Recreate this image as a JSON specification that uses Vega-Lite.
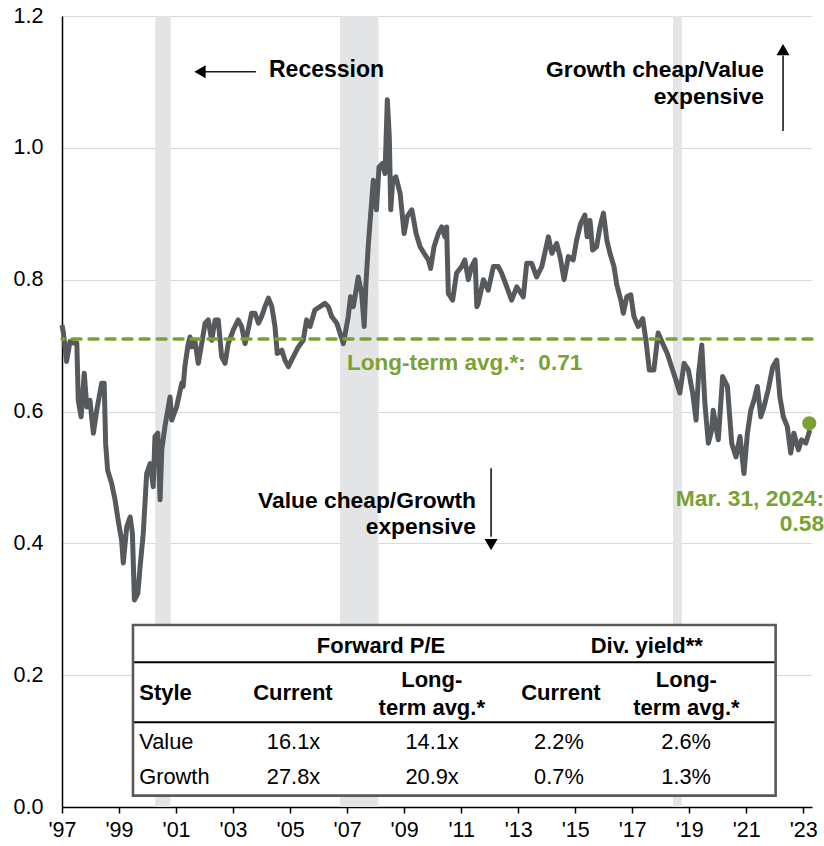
{
  "$schema": "https://vega.github.io/schema/vega-lite/v6.json",
  "width": 750,
  "height": 791,
  "autosize": {"type": "none"},
  "padding": {"left": 62, "top": 16, "right": 12, "bottom": 39},
  "background": "white",
  "config": {
    "font": "Liberation Sans",
    "view": {"stroke": null},
    "axis": {
      "domainColor": "#000000", "domainWidth": 1.5,
      "labelFont": "Liberation Sans", "labelFontSize": 21.5, "labelColor": "#000000",
      "gridColor": "#d9d9d9", "gridWidth": 1.2, "title": null, "labelFlush": false, "labelOverlap": false
    },
    "axisX": {"grid": false, "ticks": true, "tickColor": "#000000", "tickWidth": 1.5, "tickSize": 6, "labelPadding": 6},
    "axisY": {"grid": true, "ticks": false, "tickSize": 0, "labelPadding": 19}
  },
  "layer": [
    {
      "data": {"values": [{"s": 2000.27, "e": 2000.81}, {"s": 2006.75, "e": 2008.10}, {"s": 2018.43, "e": 2018.74}]},
      "mark": {"type": "rect", "color": "#e3e4e6"},
      "encoding": {
        "x": {"field": "s", "type": "quantitative", "title": null, "scale": {"domain": [1997, 2023.306], "nice": false, "zero": false},
              "axis": {"values": [1997, 1999, 2001, 2003, 2005, 2007, 2009, 2011, 2013, 2015, 2017, 2019, 2021, 2023], "labelExpr": "\"'\" + slice(toString(datum.value), 2)"}},
        "x2": {"field": "e"},
        "y": {"datum": 0, "type": "quantitative", "title": null, "scale": {"domain": [0, 1.2], "nice": false},
              "axis": {"values": [0, 0.2, 0.4, 0.6, 0.8, 1.0, 1.2], "format": ".1f"}},
        "y2": {"datum": 1.2}
      }
    },
    {
      "data": {"values": [
        {"t":1997.00,"v":0.731},{"t":1997.05,"v":0.719},{"t":1997.16,"v":0.676},{"t":1997.28,"v":0.706},{"t":1997.40,"v":0.704},{"t":1997.52,"v":0.704},{"t":1997.57,"v":0.617},{"t":1997.67,"v":0.592},{"t":1997.78,"v":0.658},{"t":1997.87,"v":0.607},{"t":1997.98,"v":0.617},{"t":1998.10,"v":0.567},{"t":1998.22,"v":0.602},{"t":1998.39,"v":0.643},{"t":1998.48,"v":0.643},{"t":1998.53,"v":0.552},{"t":1998.60,"v":0.511},{"t":1998.74,"v":0.491},{"t":1998.86,"v":0.466},{"t":1998.97,"v":0.435},{"t":1999.09,"v":0.405},{"t":1999.15,"v":0.370},{"t":1999.27,"v":0.425},{"t":1999.39,"v":0.440},{"t":1999.47,"v":0.415},{"t":1999.54,"v":0.314},{"t":1999.66,"v":0.324},{"t":1999.74,"v":0.365},{"t":1999.85,"v":0.415},{"t":1999.97,"v":0.506},{"t":2000.09,"v":0.521},{"t":2000.20,"v":0.486},{"t":2000.26,"v":0.562},{"t":2000.36,"v":0.567},{"t":2000.44,"v":0.466},{"t":2000.50,"v":0.542},{"t":2000.61,"v":0.577},{"t":2000.79,"v":0.622},{"t":2000.85,"v":0.587},{"t":2001.02,"v":0.607},{"t":2001.20,"v":0.643},{"t":2001.25,"v":0.638},{"t":2001.31,"v":0.668},{"t":2001.42,"v":0.701},{"t":2001.49,"v":0.713},{"t":2001.55,"v":0.698},{"t":2001.66,"v":0.708},{"t":2001.78,"v":0.673},{"t":2001.90,"v":0.703},{"t":2002.02,"v":0.734},{"t":2002.13,"v":0.739},{"t":2002.25,"v":0.708},{"t":2002.37,"v":0.739},{"t":2002.48,"v":0.739},{"t":2002.60,"v":0.683},{"t":2002.72,"v":0.673},{"t":2002.83,"v":0.703},{"t":2003.01,"v":0.724},{"t":2003.18,"v":0.739},{"t":2003.30,"v":0.729},{"t":2003.42,"v":0.703},{"t":2003.53,"v":0.724},{"t":2003.65,"v":0.749},{"t":2003.77,"v":0.749},{"t":2003.89,"v":0.734},{"t":2004.00,"v":0.744},{"t":2004.12,"v":0.759},{"t":2004.24,"v":0.772},{"t":2004.36,"v":0.759},{"t":2004.47,"v":0.729},{"t":2004.55,"v":0.688},{"t":2004.71,"v":0.693},{"t":2004.82,"v":0.678},{"t":2004.94,"v":0.668},{"t":2005.11,"v":0.683},{"t":2005.29,"v":0.698},{"t":2005.46,"v":0.708},{"t":2005.58,"v":0.739},{"t":2005.70,"v":0.729},{"t":2005.87,"v":0.754},{"t":2006.05,"v":0.759},{"t":2006.22,"v":0.764},{"t":2006.34,"v":0.759},{"t":2006.46,"v":0.744},{"t":2006.64,"v":0.734},{"t":2006.75,"v":0.719},{"t":2006.87,"v":0.703},{"t":2007.04,"v":0.744},{"t":2007.12,"v":0.774},{"t":2007.22,"v":0.759},{"t":2007.39,"v":0.804},{"t":2007.51,"v":0.779},{"t":2007.60,"v":0.729},{"t":2007.66,"v":0.794},{"t":2007.74,"v":0.850},{"t":2007.80,"v":0.885},{"t":2007.92,"v":0.951},{"t":2008.03,"v":0.906},{"t":2008.12,"v":0.971},{"t":2008.24,"v":0.976},{"t":2008.33,"v":0.961},{"t":2008.41,"v":1.073},{"t":2008.48,"v":1.017},{"t":2008.53,"v":0.906},{"t":2008.60,"v":0.951},{"t":2008.71,"v":0.956},{"t":2008.86,"v":0.931},{"t":2009.00,"v":0.870},{"t":2009.11,"v":0.896},{"t":2009.27,"v":0.906},{"t":2009.42,"v":0.870},{"t":2009.56,"v":0.850},{"t":2009.70,"v":0.840},{"t":2009.85,"v":0.830},{"t":2009.93,"v":0.817},{"t":2010.05,"v":0.850},{"t":2010.20,"v":0.870},{"t":2010.32,"v":0.880},{"t":2010.43,"v":0.865},{"t":2010.49,"v":0.880},{"t":2010.55,"v":0.779},{"t":2010.70,"v":0.769},{"t":2010.84,"v":0.810},{"t":2011.02,"v":0.820},{"t":2011.13,"v":0.830},{"t":2011.25,"v":0.800},{"t":2011.37,"v":0.820},{"t":2011.49,"v":0.830},{"t":2011.55,"v":0.759},{"t":2011.60,"v":0.764},{"t":2011.78,"v":0.800},{"t":2011.95,"v":0.784},{"t":2012.13,"v":0.820},{"t":2012.30,"v":0.820},{"t":2012.42,"v":0.810},{"t":2012.60,"v":0.789},{"t":2012.77,"v":0.769},{"t":2012.95,"v":0.789},{"t":2013.18,"v":0.774},{"t":2013.30,"v":0.825},{"t":2013.47,"v":0.825},{"t":2013.65,"v":0.804},{"t":2013.83,"v":0.820},{"t":2014.06,"v":0.865},{"t":2014.18,"v":0.840},{"t":2014.35,"v":0.855},{"t":2014.47,"v":0.835},{"t":2014.61,"v":0.800},{"t":2014.76,"v":0.835},{"t":2014.93,"v":0.830},{"t":2015.05,"v":0.860},{"t":2015.19,"v":0.885},{"t":2015.34,"v":0.898},{"t":2015.42,"v":0.865},{"t":2015.52,"v":0.890},{"t":2015.61,"v":0.845},{"t":2015.75,"v":0.850},{"t":2015.87,"v":0.880},{"t":2015.99,"v":0.901},{"t":2016.11,"v":0.860},{"t":2016.22,"v":0.840},{"t":2016.36,"v":0.820},{"t":2016.46,"v":0.792},{"t":2016.60,"v":0.769},{"t":2016.69,"v":0.749},{"t":2016.81,"v":0.774},{"t":2016.95,"v":0.777},{"t":2017.06,"v":0.744},{"t":2017.21,"v":0.729},{"t":2017.37,"v":0.741},{"t":2017.48,"v":0.708},{"t":2017.60,"v":0.663},{"t":2017.76,"v":0.663},{"t":2017.91,"v":0.719},{"t":2018.07,"v":0.703},{"t":2018.23,"v":0.688},{"t":2018.38,"v":0.668},{"t":2018.53,"v":0.648},{"t":2018.67,"v":0.628},{"t":2018.82,"v":0.673},{"t":2018.97,"v":0.663},{"t":2019.12,"v":0.628},{"t":2019.24,"v":0.587},{"t":2019.33,"v":0.658},{"t":2019.44,"v":0.701},{"t":2019.55,"v":0.612},{"t":2019.67,"v":0.552},{"t":2019.79,"v":0.572},{"t":2019.84,"v":0.602},{"t":2020.02,"v":0.557},{"t":2020.17,"v":0.653},{"t":2020.34,"v":0.638},{"t":2020.49,"v":0.552},{"t":2020.64,"v":0.531},{"t":2020.78,"v":0.562},{"t":2020.92,"v":0.506},{"t":2021.04,"v":0.567},{"t":2021.16,"v":0.602},{"t":2021.27,"v":0.617},{"t":2021.39,"v":0.638},{"t":2021.51,"v":0.592},{"t":2021.62,"v":0.607},{"t":2021.77,"v":0.633},{"t":2021.93,"v":0.668},{"t":2022.07,"v":0.678},{"t":2022.18,"v":0.622},{"t":2022.30,"v":0.592},{"t":2022.44,"v":0.577},{"t":2022.56,"v":0.537},{"t":2022.67,"v":0.567},{"t":2022.83,"v":0.542},{"t":2022.94,"v":0.557},{"t":2023.09,"v":0.552},{"t":2023.23,"v":0.572}
      ]},
      "mark": {"type": "line", "color": "#575a5d", "strokeWidth": 5, "strokeJoin": "round"},
      "encoding": {
        "x": {"field": "t", "type": "quantitative", "title": null, "scale": {"domain": [1997, 2023.306], "nice": false, "zero": false}},
        "y": {"field": "v", "type": "quantitative", "title": null, "scale": {"domain": [0, 1.2], "nice": false}}
      }
    },
    {
      "data": {"values": [{"avg": 0.71}]},
      "mark": {"type": "rule", "color": "#7aa233", "strokeWidth": 3.5, "strokeDash": [9, 8], "strokeCap": "round"},
      "encoding": {
        "y": {"field": "avg", "type": "quantitative", "title": null, "scale": {"domain": [0, 1.2], "nice": false}}
      }
    },
    {
      "data": {"values": [{"t": 2023.21, "v": 0.582}]},
      "mark": {"type": "point", "filled": true, "opacity": 1, "color": "#7aa233", "size": 200},
      "encoding": {
        "x": {"field": "t", "type": "quantitative", "title": null, "scale": {"domain": [1997, 2023.306], "nice": false, "zero": false}},
        "y": {"field": "v", "type": "quantitative", "title": null, "scale": {"domain": [0, 1.2], "nice": false}}
      }
    },
    {
      "data": {"values": [{"t": 2007.0, "v": 0.674, "label": "Long-term avg.*:\u00a0\u00a00.71"}]},
      "mark": {"type": "text", "align": "left", "baseline": "middle", "fontWeight": "bold", "fontSize": 22.5, "color": "#7aa233"},
      "encoding": {
        "x": {"field": "t", "type": "quantitative", "title": null, "scale": {"domain": [1997, 2023.306], "nice": false, "zero": false}},
        "y": {"field": "v", "type": "quantitative", "title": null, "scale": {"domain": [0, 1.2], "nice": false}},
        "text": {"field": "label"}
      }
    },
    {
      "data": {"values": [{"t": 2023.73, "v": 0.468, "label": "Mar. 31, 2024:"}, {"t": 2023.73, "v": 0.429, "label": "0.58"}]},
      "mark": {"type": "text", "align": "right", "baseline": "middle", "fontWeight": "bold", "fontSize": 22.8, "color": "#7aa233"},
      "encoding": {
        "x": {"field": "t", "type": "quantitative", "title": null, "scale": {"domain": [1997, 2023.306], "nice": false, "zero": false}},
        "y": {"field": "v", "type": "quantitative", "title": null, "scale": {"domain": [0, 1.2], "nice": false}},
        "text": {"field": "label"}
      }
    },
    {
      "data": {"values": [
        {"t": 2021.62, "v": 1.118, "label": "Growth cheap/Value"},
        {"t": 2021.62, "v": 1.077, "label": "expensive"},
        {"t": 2011.52, "v": 0.464, "label": "Value cheap/Growth"},
        {"t": 2011.52, "v": 0.425, "label": "expensive"}
      ]},
      "mark": {"type": "text", "align": "right", "baseline": "middle", "fontWeight": "bold", "fontSize": 22.8, "color": "#000000"},
      "encoding": {
        "x": {"field": "t", "type": "quantitative", "title": null, "scale": {"domain": [1997, 2023.306], "nice": false, "zero": false}},
        "y": {"field": "v", "type": "quantitative", "title": null, "scale": {"domain": [0, 1.2], "nice": false}},
        "text": {"field": "label"}
      }
    },
    {
      "data": {"values": [{"t": 2004.26, "v": 1.118, "label": "Recession"}]},
      "mark": {"type": "text", "align": "left", "baseline": "middle", "fontWeight": "bold", "fontSize": 23, "color": "#000000"},
      "encoding": {
        "x": {"field": "t", "type": "quantitative", "title": null, "scale": {"domain": [1997, 2023.306], "nice": false, "zero": false}},
        "y": {"field": "v", "type": "quantitative", "title": null, "scale": {"domain": [0, 1.2], "nice": false}},
        "text": {"field": "label"}
      }
    },
    {
      "data": {"values": [
        {"t1": 2001.84, "t2": 2003.80, "v1": 1.1154, "v2": 1.1154},
        {"t1": 2022.29, "t2": 2022.29, "v1": 1.0255, "v2": 1.14},
        {"t1": 2012.05, "t2": 2012.05, "v1": 0.514, "v2": 0.41}
      ]},
      "mark": {"type": "rule", "color": "#1a1a1a", "strokeWidth": 1.6},
      "encoding": {
        "x": {"field": "t1", "type": "quantitative", "title": null, "scale": {"domain": [1997, 2023.306], "nice": false, "zero": false}},
        "x2": {"field": "t2"},
        "y": {"field": "v1", "type": "quantitative", "title": null, "scale": {"domain": [0, 1.2], "nice": false}},
        "y2": {"field": "v2"}
      }
    },
    {
      "data": {"values": [
        {"t": 2001.84, "v": 1.1154, "dir": "triangle-left"},
        {"t": 2022.29, "v": 1.149, "dir": "triangle-up"},
        {"t": 2012.05, "v": 0.398, "dir": "triangle-down"}
      ]},
      "mark": {"type": "point", "filled": true, "opacity": 1, "color": "#000000", "size": 170},
      "encoding": {
        "x": {"field": "t", "type": "quantitative", "title": null, "scale": {"domain": [1997, 2023.306], "nice": false, "zero": false}},
        "y": {"field": "v", "type": "quantitative", "title": null, "scale": {"domain": [0, 1.2], "nice": false}},
        "shape": {"field": "dir", "type": "nominal", "scale": null}
      }
    },
    {
      "data": {"values": [{"t1": 1999.49, "t2": 2022.03, "v1": 0.0172, "v2": 0.276}]},
      "mark": {"type": "rect", "fill": "#ffffff", "stroke": "#5a5a5a", "strokeWidth": 2.6},
      "encoding": {
        "x": {"field": "t1", "type": "quantitative", "title": null, "scale": {"domain": [1997, 2023.306], "nice": false, "zero": false}},
        "x2": {"field": "t2"},
        "y": {"field": "v1", "type": "quantitative", "title": null, "scale": {"domain": [0, 1.2], "nice": false}},
        "y2": {"field": "v2"}
      }
    },
    {
      "data": {"values": [
        {"t1": 1999.53, "t2": 2021.99, "v": 0.2195},
        {"t1": 1999.53, "t2": 2021.99, "v": 0.1285}
      ]},
      "mark": {"type": "rule", "color": "#000000", "strokeWidth": 2},
      "encoding": {
        "x": {"field": "t1", "type": "quantitative", "title": null, "scale": {"domain": [1997, 2023.306], "nice": false, "zero": false}},
        "x2": {"field": "t2"},
        "y": {"field": "v", "type": "quantitative", "title": null, "scale": {"domain": [0, 1.2], "nice": false}}
      }
    },
    {
      "data": {"values": [
        {"t": 2008.19, "v": 0.2447, "label": "Forward P/E"},
        {"t": 2017.51, "v": 0.2447, "label": "Div. yield**"},
        {"t": 2005.10, "v": 0.1725, "label": "Current"},
        {"t": 2009.97, "v": 0.1927, "label": "Long-"},
        {"t": 2009.97, "v": 0.1497, "label": "term avg.*"},
        {"t": 2014.50, "v": 0.1725, "label": "Current"},
        {"t": 2018.90, "v": 0.1927, "label": "Long-"},
        {"t": 2018.90, "v": 0.1497, "label": "term avg.*"}
      ]},
      "mark": {"type": "text", "align": "center", "baseline": "middle", "fontWeight": "bold", "fontSize": 22, "color": "#000000"},
      "encoding": {
        "x": {"field": "t", "type": "quantitative", "title": null, "scale": {"domain": [1997, 2023.306], "nice": false, "zero": false}},
        "y": {"field": "v", "type": "quantitative", "title": null, "scale": {"domain": [0, 1.2], "nice": false}},
        "text": {"field": "label"}
      }
    },
    {
      "data": {"values": [{"t": 1999.71, "v": 0.1725, "label": "Style"}]},
      "mark": {"type": "text", "align": "left", "baseline": "middle", "fontWeight": "bold", "fontSize": 22, "color": "#000000"},
      "encoding": {
        "x": {"field": "t", "type": "quantitative", "title": null, "scale": {"domain": [1997, 2023.306], "nice": false, "zero": false}},
        "y": {"field": "v", "type": "quantitative", "title": null, "scale": {"domain": [0, 1.2], "nice": false}},
        "text": {"field": "label"}
      }
    },
    {
      "data": {"values": [
        {"t": 1999.71, "v": 0.0986, "label": "Value"},
        {"t": 1999.71, "v": 0.0455, "label": "Growth"}
      ]},
      "mark": {"type": "text", "align": "left", "baseline": "middle", "fontSize": 21.8, "color": "#000000"},
      "encoding": {
        "x": {"field": "t", "type": "quantitative", "title": null, "scale": {"domain": [1997, 2023.306], "nice": false, "zero": false}},
        "y": {"field": "v", "type": "quantitative", "title": null, "scale": {"domain": [0, 1.2], "nice": false}},
        "text": {"field": "label"}
      }
    },
    {
      "data": {"values": [
        {"t": 2005.12, "v": 0.0986, "label": "16.1x"},
        {"t": 2009.98, "v": 0.0986, "label": "14.1x"},
        {"t": 2014.43, "v": 0.0986, "label": "2.2%"},
        {"t": 2018.89, "v": 0.0986, "label": "2.6%"},
        {"t": 2005.12, "v": 0.0455, "label": "27.8x"},
        {"t": 2009.98, "v": 0.0455, "label": "20.9x"},
        {"t": 2014.43, "v": 0.0455, "label": "0.7%"},
        {"t": 2018.89, "v": 0.0455, "label": "1.3%"}
      ]},
      "mark": {"type": "text", "align": "center", "baseline": "middle", "fontSize": 21.8, "color": "#000000"},
      "encoding": {
        "x": {"field": "t", "type": "quantitative", "title": null, "scale": {"domain": [1997, 2023.306], "nice": false, "zero": false}},
        "y": {"field": "v", "type": "quantitative", "title": null, "scale": {"domain": [0, 1.2], "nice": false}},
        "text": {"field": "label"}
      }
    }
  ]
}
